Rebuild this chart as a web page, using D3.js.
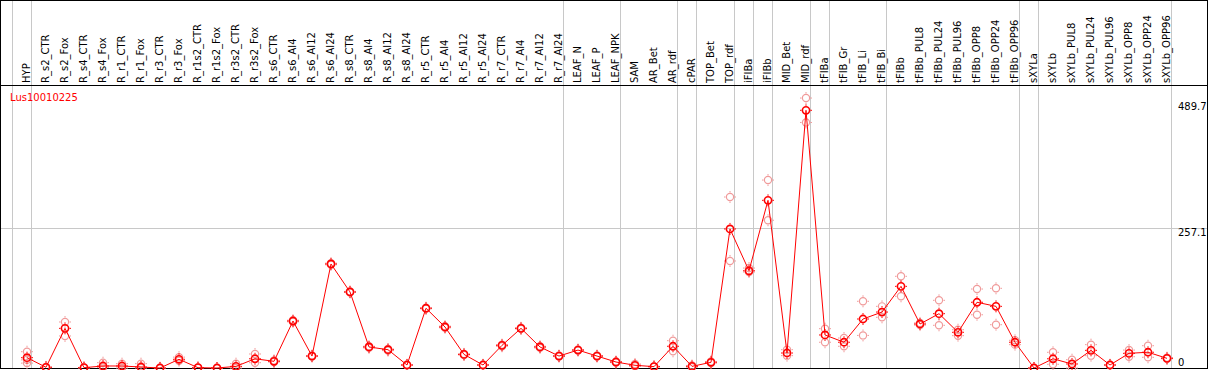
<!DOCTYPE html>
<html>
<head>
<meta charset="utf-8">
<script src="https://cdn.jsdelivr.net/npm/d3@7"></script>
<style>
  html, body { margin: 0; padding: 0; background: #fff; }
  svg { display: block; }
  text { font-family: 'DejaVu Sans', sans-serif; }
</style>
</head>
<body>
<svg id="chart"></svg>
<script>
const GENE = 'Lus10010225'

const categories = [
  'HYP', 'R_s2_CTR', 'R_s2_Fox', 'R_s4_CTR', 'R_s4_Fox', 'R_r1_CTR', 'R_r1_Fox', 'R_r3_CTR', 'R_r3_Fox',
  'R_r1s2_CTR', 'R_r1s2_Fox', 'R_r3s2_CTR', 'R_r3s2_Fox', 'R_s6_CTR', 'R_s6_Al4', 'R_s6_Al12', 'R_s6_Al24',
  'R_s8_CTR', 'R_s8_Al4', 'R_s8_Al12', 'R_s8_Al24', 'R_r5_CTR', 'R_r5_Al4', 'R_r5_Al12', 'R_r5_Al24',
  'R_r7_CTR', 'R_r7_Al4', 'R_r7_Al12', 'R_r7_Al24', 'LEAF_N', 'LEAF_P', 'LEAF_NPK', 'SAM', 'AR_Bet', 'AR_rdf',
  'cPAR', 'TOP_Bet', 'TOP_rdf', 'iFIBa', 'iFIBb', 'MID_Bet', 'MID_rdf', 'tFIBa', 'tFIB_Gr', 'tFIB_Li', 'tFIB_Bi',
  'tFIBb', 'tFIBb_PUL8', 'tFIBb_PUL24', 'tFIBb_PUL96', 'tFIBb_OPP8', 'tFIBb_OPP24', 'tFIBb_OPP96',
  'sXYLa', 'sXYLb', 'sXYLb_PUL8', 'sXYLb_PUL24', 'sXYLb_PUL96', 'sXYLb_OPP8', 'sXYLb_OPP24', 'sXYLb_OPP96'
]

// mean expression per sample
const means = [
  19, 1.3, 73, 0.6, 3.7, 3.7, 1.8, 0, 16,
  0.6, 0, 3, 17, 12.3, 86.5, 22, 191.5,
  140, 38.7, 33.7, 5.5, 110, 75.5, 25, 5.5,
  41.7, 73, 38.7, 22, 33, 22, 11, 5, 2.5, 40,
  3, 10.5, 256, 179, 308.7, 27.6, 474.4, 60.8, 47.4, 90.2, 103,
  150.3, 81, 100, 65.7, 121, 113.5, 47.4,
  0, 17, 7.4, 32.5, 5.5, 27, 29, 17.8
]

// individual replicates per sample
const replicates = [
  [30, 15, 9], [2, 0.6], [84.7, 59], [1, 0], [9.8, 1], [8, 0], [8, 0], [0.5, 0], [20, 13.5],
  [1, 0], [0, 0], [8, 0], [25.8, 9.8], [14, 11], [88, 85], [23, 21], [193, 190],
  [141, 139], [40, 37], [35, 32], [6, 5], [111, 109], [77, 74], [26, 24], [6, 5],
  [43, 40], [74, 72], [40, 37], [23, 21], [34, 32], [23, 21], [12, 10], [7.4, 3], [3, 2], [50.3, 30.7],
  [4.6, 1.5], [12, 9], [314.8, 197], [184, 176.7], [346, 272], [33.7, 22.7], [497, 452], [72.4, 47.4], [55.2, 40], [122.8, 60], [113.5, 93.3],
  [168.8, 132], [83, 79], [124.6, 78.6], [70.5, 59.5], [145.4, 98], [146.7, 79.7], [51, 43],
  [0, 0], [28.9, 6.8], [15.3, 0], [43, 22.7], [6, 5], [33, 20.8], [41, 19.7], [19, 17]
]

// samples after which a separator line is drawn
const groupEnds = [
  'HYP', 'R_r7_Al24', 'LEAF_NPK', 'AR_rdf', 'cPAR', 'TOP_rdf', 'iFIBa', 'iFIBb',
  'MID_rdf', 'tFIBa', 'tFIB_Bi', 'tFIBb_OPP96', 'sXYLa', 'sXYLb_OPP96'
]

const yTicks = [0, 257.1, 489.7]

const WIDTH = 1209
const HEIGHT = 370
const HEADER = 85.5
const BOTTOM = 368
const RED = '#ff0000'
const PINK = '#f09a9a'
const GRID = '#c8c8c8'

const svg = d3.select('#chart')
  .attr('width', WIDTH)
  .attr('height', HEIGHT)

const x = d3.scalePoint()
  .domain(categories)
  .range([27, 27 + 19 * (categories.length - 1)])

const y = d3.scaleLinear()
  .domain([0, 489.7])
  .range([BOTTOM, 102])

svg.append('rect')
  .attr('width', WIDTH)
  .attr('height', HEIGHT)
  .attr('fill', '#fff')

// separator lines run through the header too
const sepX = [x(categories[0]) - x.step() + 3.5].concat(groupEnds.map(c => x(c) + 3.5))
svg.append('g')
  .selectAll('line')
  .data(sepX)
  .enter()
  .append('line')
  .attr('x1', d => Math.round(d) + 0.5)
  .attr('x2', d => Math.round(d) + 0.5)
  .attr('y1', 0)
  .attr('y2', BOTTOM)
  .attr('stroke', GRID)

// horizontal grid at the middle tick
svg.append('line')
  .attr('x1', 1)
  .attr('x2', WIDTH - 2)
  .attr('y1', Math.round(y(yTicks[1])) + 0.5)
  .attr('y2', Math.round(y(yTicks[1])) + 0.5)
  .attr('stroke', GRID)

// frame
svg.append('rect')
  .attr('x', 0.5)
  .attr('y', 0.5)
  .attr('width', WIDTH - 2)
  .attr('height', BOTTOM)
  .attr('fill', 'none')
  .attr('stroke', '#000')

svg.append('line')
  .attr('x1', 0)
  .attr('x2', WIDTH - 1)
  .attr('y1', HEADER)
  .attr('y2', HEADER)
  .attr('stroke', '#000')

// sample labels, vertical
svg.append('g')
  .selectAll('text')
  .data(categories)
  .enter()
  .append('text')
  .attr('transform', d => `translate(${x(d) + 3}, 83) rotate(-90)`)
  .attr('font-size', '10px')
  .attr('fill', '#000')
  .text(d => d)

// y labels on the right
svg.append('g')
  .selectAll('text')
  .data(yTicks)
  .enter()
  .append('text')
  .attr('x', 1178)
  .attr('y', d => d === 0 ? 366 : y(d) + 8)
  .attr('font-size', '10px')
  .attr('fill', '#000')
  .text(d => d)

svg.append('text')
  .attr('x', 10)
  .attr('y', 101)
  .attr('font-size', '10px')
  .attr('fill', RED)
  .text(GENE)

function marker(g, color, width) {
  g.append('circle')
    .attr('r', 3.6)
    .attr('fill', 'none')
    .attr('stroke', color)
    .attr('stroke-width', width)
  g.append('path')
    .attr('d', 'M0,-6V-4.5M0,4.5V6M-6,0H-4.5M4.5,0H6')
    .attr('stroke', color)
    .attr('stroke-width', 1)
}

// replicates
const repData = []
replicates.forEach((reps, i) => reps.forEach(v => repData.push({ cat: categories[i], v })))

svg.append('g')
  .selectAll('g')
  .data(repData)
  .enter()
  .append('g')
  .attr('transform', d => `translate(${x(d.cat)}, ${y(d.v)})`)
  .each(function () { marker(d3.select(this), PINK, 1.2) })

// mean line
const line = d3.line()
  .x((d, i) => x(categories[i]))
  .y(d => y(d))

svg.append('path')
  .datum(means)
  .attr('d', line)
  .attr('fill', 'none')
  .attr('stroke', RED)
  .attr('stroke-width', 1)

svg.append('g')
  .selectAll('g')
  .data(means)
  .enter()
  .append('g')
  .attr('transform', (d, i) => `translate(${x(categories[i])}, ${y(d)})`)
  .each(function () { marker(d3.select(this), RED, 1.6) })
</script>
</body>
</html>
